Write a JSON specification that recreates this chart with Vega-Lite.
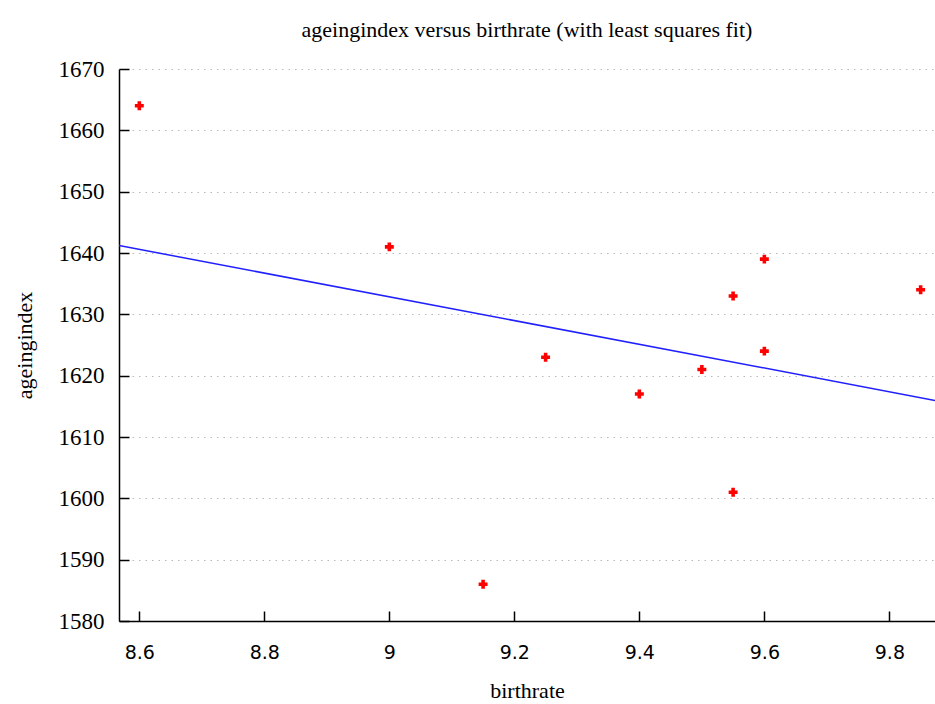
{
  "$schema": "https://vega.github.io/schema/vega-lite/v6.json",
  "width": 816,
  "height": 552,
  "autosize": {"type": "none"},
  "padding": {"left": 119, "top": 69, "right": 0, "bottom": 83},
  "background": "white",
  "title": {
    "text": "ageingindex versus birthrate (with least squares fit)",
    "font": "Liberation Serif",
    "fontSize": 22,
    "fontWeight": "normal",
    "color": "#000000",
    "anchor": "middle",
    "offset": 16
  },
  "config": {
    "view": {"stroke": null},
    "axis": {
      "domainColor": "#000000",
      "domainWidth": 1.5,
      "tickColor": "#000000",
      "tickWidth": 1.5,
      "tickSize": -10,
      "labelColor": "#000000",
      "titleColor": "#000000",
      "titleFontWeight": "normal",
      "titleFont": "Liberation Serif",
      "titleFontSize": 22
    }
  },
  "data": {
    "values": [
      {"birthrate": 8.6, "ageingindex": 1664},
      {"birthrate": 9.0, "ageingindex": 1641},
      {"birthrate": 9.15, "ageingindex": 1586},
      {"birthrate": 9.25, "ageingindex": 1623},
      {"birthrate": 9.4, "ageingindex": 1617},
      {"birthrate": 9.5, "ageingindex": 1621},
      {"birthrate": 9.55, "ageingindex": 1633},
      {"birthrate": 9.55, "ageingindex": 1601},
      {"birthrate": 9.6, "ageingindex": 1639},
      {"birthrate": 9.6, "ageingindex": 1624},
      {"birthrate": 9.85, "ageingindex": 1634}
    ]
  },
  "encoding": {
    "x": {
      "field": "birthrate",
      "type": "quantitative",
      "scale": {"domain": [8.5675, 9.873], "nice": false, "zero": false},
      "axis": {
        "values": [8.6, 8.8, 9.0, 9.2, 9.4, 9.6, 9.8],
        "format": "~g",
        "grid": false,
        "labelFont": "DejaVu Sans",
        "labelFontSize": 19,
        "labelPadding": 32,
        "title": "birthrate",
        "titlePadding": 18
      }
    },
    "y": {
      "field": "ageingindex",
      "type": "quantitative",
      "scale": {"domain": [1580, 1670], "nice": false, "zero": false},
      "axis": {
        "values": [1580, 1590, 1600, 1610, 1620, 1630, 1640, 1650, 1660, 1670],
        "format": "d",
        "grid": true,
        "gridColor": "#b8b8b8",
        "gridDash": [1.5, 5],
        "gridWidth": 1,
        "labelFont": "Liberation Serif",
        "labelFontSize": 23,
        "labelPadding": 25,
        "title": "ageingindex",
        "titlePadding": 22
      }
    }
  },
  "layer": [
    {
      "mark": {"type": "point", "shape": "cross", "filled": true, "color": "#ff0000", "size": 80, "opacity": 1}
    },
    {
      "transform": [
        {"regression": "ageingindex", "on": "birthrate", "extent": [8.5675, 9.873]}
      ],
      "mark": {"type": "line", "color": "#2020ff", "strokeWidth": 1.5, "clip": true}
    }
  ]
}
